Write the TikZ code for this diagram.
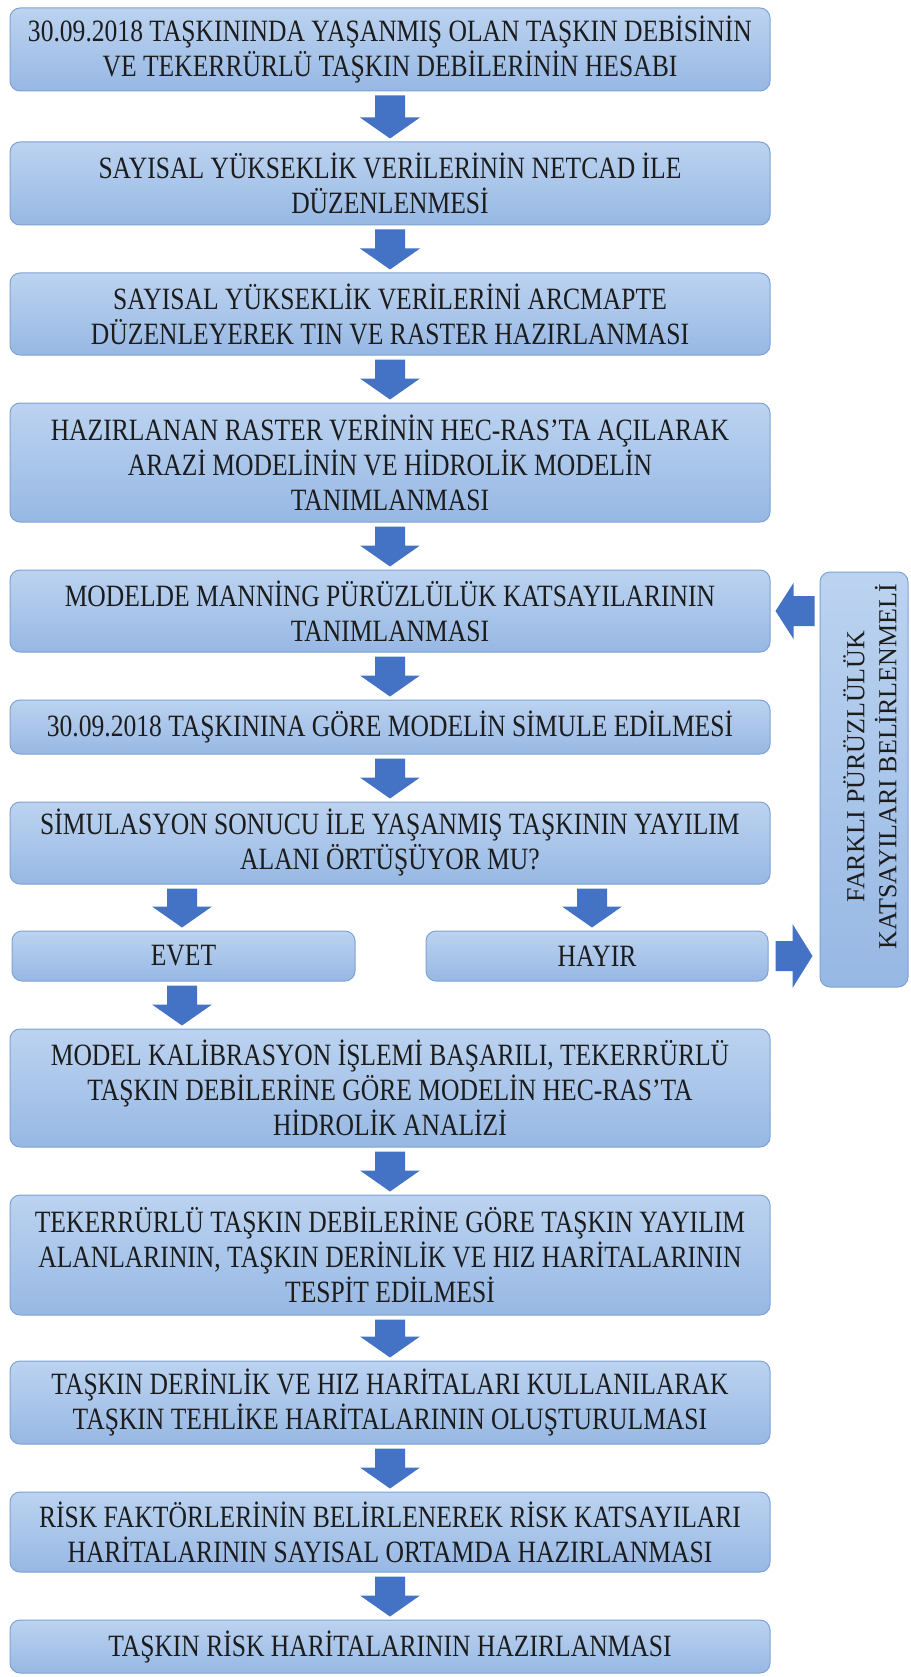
\documentclass[tikz,border=0pt]{standalone}
\usepackage{fontspec}
\setmainfont{Liberation Serif}[FakeStretch=0.825]
\newfontfamily\sidefont{Liberation Serif}
\usetikzlibrary{calc}
\definecolor{boxtop}{HTML}{BCD3F0}
\definecolor{boxbot}{HTML}{97B8E4}
\definecolor{boxline}{HTML}{7FA2D3}
\definecolor{arrowc}{HTML}{4472C4}
\definecolor{txt}{HTML}{1C1C1C}
\tikzset{
  box/.style={draw=boxline, line width=1pt, top color=boxtop, bottom color=boxbot,
    rounded corners=10pt, inner sep=0pt, align=center, text=txt,
    font=\fontsize{31pt}{35pt}\selectfont},
  mainbox/.style={box, minimum width=760pt},
}
\newcommand{\varrow}[3]{%
  \fill[arrowc] let \p1=(#1.south), \p2=(#2.north) in
    ({#3pt-15pt},{\y1-4pt}) -- ({#3pt+15pt},{\y1-4pt}) -- ({#3pt+15pt},{\y2+24pt})
    -- ({#3pt+30pt},{\y2+24pt}) -- ({#3pt},{\y2+3pt}) -- ({#3pt-30pt},{\y2+24pt})
    -- ({#3pt-15pt},{\y2+24pt}) -- cycle;}
\begin{document}
\begin{tikzpicture}[x=1pt,y=-1pt]
\useasboundingbox (0,0) rectangle (910,1677);
\node[mainbox, minimum height=83pt] (b1) at (390,49.5) {30.09.2018 TAŞKININDA YAŞANMIŞ OLAN TAŞKIN DEBİSİNİN\\VE TEKERRÜRLÜ TAŞKIN DEBİLERİNİN HESABI};
\node[mainbox, minimum height=83pt] (b2) at (390,183.5) {SAYISAL YÜKSEKLİK VERİLERİNİN NETCAD İLE\\DÜZENLENMESİ};
\node[mainbox, minimum height=82pt] (b3) at (390,314) {SAYISAL YÜKSEKLİK VERİLERİNİ ARCMAPTE\\DÜZENLEYEREK TIN VE RASTER HAZIRLANMASI};
\node[mainbox, minimum height=119pt] (b4) at (390,462.5) {HAZIRLANAN RASTER VERİNİN HEC-RAS'TA AÇILARAK\\ARAZİ MODELİNİN VE HİDROLİK MODELİN\\TANIMLANMASI};
\node[mainbox, minimum height=82pt] (b5) at (390,611) {MODELDE MANNİNG PÜRÜZLÜLÜK KATSAYILARININ\\TANIMLANMASI};
\node[mainbox, minimum height=54pt] (b6) at (390,727) {30.09.2018 TAŞKININA GÖRE MODELİN SİMULE EDİLMESİ};
\node[mainbox, minimum height=82pt] (b7) at (390,843) {SİMULASYON SONUCU İLE YAŞANMIŞ TAŞKININ YAYILIM\\ALANI ÖRTÜŞÜYOR MU?};
\node[box, minimum width=343pt, minimum height=50pt] (evet) at (183.5,956) {EVET};
\node[box, minimum width=342pt, minimum height=50pt] (hayir) at (597,956) {HAYIR};
\node[mainbox, minimum height=118pt] (b8) at (390,1088) {MODEL KALİBRASYON İŞLEMİ BAŞARILI, TEKERRÜRLÜ\\TAŞKIN DEBİLERİNE GÖRE MODELİN HEC-RAS'TA\\HİDROLİK ANALİZİ};
\node[mainbox, minimum height=120pt] (b9) at (390,1255) {TEKERRÜRLÜ TAŞKIN DEBİLERİNE GÖRE TAŞKIN YAYILIM\\ALANLARININ, TAŞKIN DERİNLİK VE HIZ HARİTALARININ\\TESPİT EDİLMESİ};
\node[mainbox, minimum height=83pt] (b10) at (390,1402.5) {TAŞKIN DERİNLİK VE HIZ HARİTALARI KULLANILARAK\\TAŞKIN TEHLİKE HARİTALARININ OLUŞTURULMASI};
\node[mainbox, minimum height=80pt] (b11) at (390,1532) {RİSK FAKTÖRLERİNİN BELİRLENEREK RİSK KATSAYILARI\\HARİTALARININ SAYISAL ORTAMDA HAZIRLANMASI};
\node[mainbox, minimum height=53pt] (b12) at (390,1646.5) {TAŞKIN RİSK HARİTALARININ HAZIRLANMASI};
\node[box, minimum width=88pt, minimum height=415pt] (side) at (864,779.5) {};
\node[rotate=90, align=center, text=txt, inner sep=0pt, font=\sidefont\fontsize{26pt}{32pt}\selectfont] (sidetxt) at ($(side.center)+(6,-13)$) {FARKLI PÜRÜZLÜLÜK\\KATSAYILARI BELİRLENMELİ};
\varrow{b1}{b2}{390}
\varrow{b2}{b3}{390}
\varrow{b3}{b4}{390}
\varrow{b4}{b5}{390}
\varrow{b5}{b6}{390}
\varrow{b6}{b7}{390}
\varrow{b7}{evet}{182}
\varrow{b7}{hayir}{592}
\varrow{evet}{b8}{182}
\varrow{b8}{b9}{390}
\varrow{b9}{b10}{390}
\varrow{b10}{b11}{390}
\varrow{b11}{b12}{390}
% side box -> b5 (left-pointing)
\fill[arrowc] let \p1=(b5.east), \p2=(side.west) in
  ({\x2-5pt},{\y1+15pt}) -- ({\x2-5pt},{\y1-15pt}) -- ({\x1+23pt},{\y1-15pt})
  -- ({\x1+23pt},{\y1-28pt}) -- ({\x1+5pt},{\y1}) -- ({\x1+23pt},{\y1+28pt})
  -- ({\x1+23pt},{\y1+15pt}) -- cycle;
% hayir -> side box (right-pointing)
\fill[arrowc] let \p1=(hayir.east), \p2=(side.west) in
  ({\x1+7pt},{\y1+15pt}) -- ({\x1+7pt},{\y1-15pt}) -- ({\x2-27pt},{\y1-15pt})
  -- ({\x2-27pt},{\y1-32pt}) -- ({\x2-7pt},{\y1}) -- ({\x2-27pt},{\y1+32pt})
  -- ({\x2-27pt},{\y1+15pt}) -- cycle;
\end{tikzpicture}
\end{document}
